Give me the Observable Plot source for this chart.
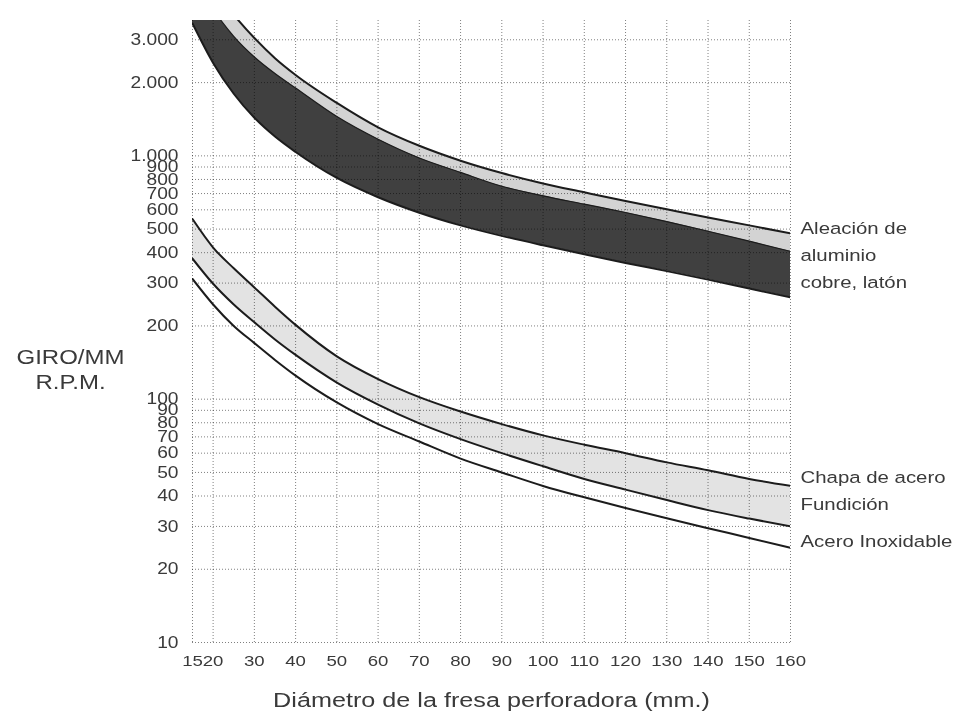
<!DOCTYPE html>
<html lang="es">
<head>
<meta charset="utf-8">
<script src="https://cdn.jsdelivr.net/npm/d3@7"></script>
<script src="https://cdn.jsdelivr.net/npm/@observablehq/plot@0.6"></script>
<style>
html, body { margin: 0; padding: 0; background: #fff; }
</style>
</head>
<body>
<div id="chart"></div>
<script>
// Diámetro de la fresa perforadora (mm.)
const diametro = [15, 20, 25, 30, 35, 40, 50, 60, 70, 80, 90, 100, 110, 120, 130, 140, 150, 160];

// Aleación de aluminio, cobre, latón (R.P.M.)
const aleacionMax = [null, 4900, 3800, 3050, 2520, 2150, 1650, 1310, 1100, 955, 850, 770, 708, 652, 603, 558, 518, 480];
const aleacionMed = [5500, 4000, 3100, 2550, 2180, 1900, 1450, 1170, 980, 855, 750, 685, 633, 585, 537, 490, 446, 405];
const aleacionMin = [3500, 2410, 1800, 1434, 1200, 1037, 811, 676, 584, 518, 469, 429, 394, 363, 336, 310, 285, 262];

// Chapa de acero / Fundición / Acero Inoxidable (R.P.M.)
const chapaAcero = [550, 420, 345, 288, 240, 202, 150, 121, 102, 89, 79, 71, 65, 60, 55, 51, 47, 44];
const fundicion = [378, 298, 245, 207, 176, 152, 117, 95, 79.5, 68.5, 60, 53, 47, 42.5, 38.5, 35, 32.3, 30];
const aceroInox = [312, 245, 200, 170, 145, 125, 97, 79, 67, 57, 50, 44, 39.5, 35.7, 32.4, 29.5, 26.9, 24.5];

// Ticks
const xTicks = [15, 20, 30, 40, 50, 60, 70, 80, 90, 100, 110, 120, 130, 140, 150, 160];
const yTicks = [10, 20, 30, 40, 50, 60, 70, 80, 90, 100, 200, 300, 400, 500, 600, 700, 800, 900, 1000, 2000, 3000];

// Texts
const etiquetas = ["Aleación de\naluminio\ncobre, latón", "Chapa de acero", "Fundición", "Acero Inoxidable"];
const tituloX = "Diámetro de la fresa perforadora (mm.)";
const tituloY = "GIRO/MM\nR.P.M.";

const rows = diametro.map((d, i) => ({
  d, max: aleacionMax[i], med: aleacionMed[i], min: aleacionMin[i],
  chapa: chapaAcero[i], fund: fundicion[i], inox: aceroInox[i]
}));
const last = rows[rows.length - 1];
const curve = "monotone-x";
const ink = "#1c1c1c";
const fmt = v => v >= 1000 ? d3.format(",")(v).replace(/,/g, ".") : String(v);
const gridStyle = {stroke: "#808080", strokeOpacity: 1, strokeDasharray: "1,2", strokeWidth: 1, mixBlendMode: "multiply"};

const chart = Plot.plot({
  width: 958,
  height: 713,
  marginTop: 20,
  marginRight: 168,
  marginBottom: 71,
  marginLeft: 192,
  style: {fontFamily: "'Liberation Sans', Arial, sans-serif", fontSize: "16px", color: "#3a3a3a", background: "#fff", overflow: "visible"},
  x: {type: "linear", domain: [15, 160], axis: null},
  y: {type: "log", domain: [10, 3600], axis: null},
  marks: [
    Plot.areaY(rows, {x: "d", y1: "fund", y2: "chapa", fill: "#e3e3e3", curve, clip: true}),
    Plot.areaY(rows, {x: "d", y1: "med", y2: "max", fill: "#d3d3d3", curve, clip: true}),
    Plot.areaY(rows, {x: "d", y1: "min", y2: "med", fill: "#404040", curve, clip: true}),
    Plot.gridX(xTicks, gridStyle),
    Plot.gridY(yTicks, gridStyle),
    Plot.line(rows, {x: "d", y: "max", stroke: ink, strokeWidth: 2, curve, clip: true}),
    Plot.line(rows, {x: "d", y: "med", stroke: ink, strokeWidth: 1.2, curve, clip: true}),
    Plot.line(rows, {x: "d", y: "min", stroke: ink, strokeWidth: 2, curve, clip: true}),
    Plot.line(rows, {x: "d", y: "chapa", stroke: ink, strokeWidth: 2, curve, clip: true}),
    Plot.line(rows, {x: "d", y: "fund", stroke: ink, strokeWidth: 2, curve, clip: true}),
    Plot.line(rows, {x: "d", y: "inox", stroke: ink, strokeWidth: 2, curve, clip: true}),
    // tick labels, placed through the x and y scales
    Plot.text(xTicks, {x: d => d, text: d => String(d), frameAnchor: "bottom", dy: 23, fontSize: 15.5}),
    Plot.text(yTicks, {y: d => d, text: fmt, frameAnchor: "left", dx: -14, textAnchor: "end", fontSize: 16}),
    Plot.text([last], {x: "d", y: "max", text: () => etiquetas[0], dx: 10, dy: 19, textAnchor: "start", lineAnchor: "middle", lineHeight: 1.6, fontSize: 17}),
    Plot.text([last], {x: "d", y: "chapa", text: () => etiquetas[1], dx: 10, dy: -8, textAnchor: "start", fontSize: 17}),
    Plot.text([last], {x: "d", y: "fund", text: () => etiquetas[2], dx: 10, dy: -22, textAnchor: "start", fontSize: 17}),
    Plot.text([last], {x: "d", y: "inox", text: () => etiquetas[3], dx: 10, dy: -6, textAnchor: "start", fontSize: 17}),
    Plot.text([tituloX], {frameAnchor: "bottom", dy: 64, fontSize: 21}),
    Plot.text([tituloY], {frameAnchor: "left", dx: -122, dy: 37, textAnchor: "middle", lineHeight: 1.24, fontSize: 20})
  ]
});

// The reference typography is horizontally wide; stretch glyphs around their anchor.
chart.querySelectorAll("text").forEach(t => {
  const tr = t.getAttribute("transform");
  if (tr) {
    t.setAttribute("transform", tr + " scale(1.2,1)");
  } else {
    const x = +(t.getAttribute("x") || 0), y = +(t.getAttribute("y") || 0);
    t.removeAttribute("x"); t.removeAttribute("y");
    t.setAttribute("transform", `translate(${x},${y}) scale(1.2,1)`);
  }
});

document.getElementById("chart").appendChild(chart);
</script>
</body>
</html>
